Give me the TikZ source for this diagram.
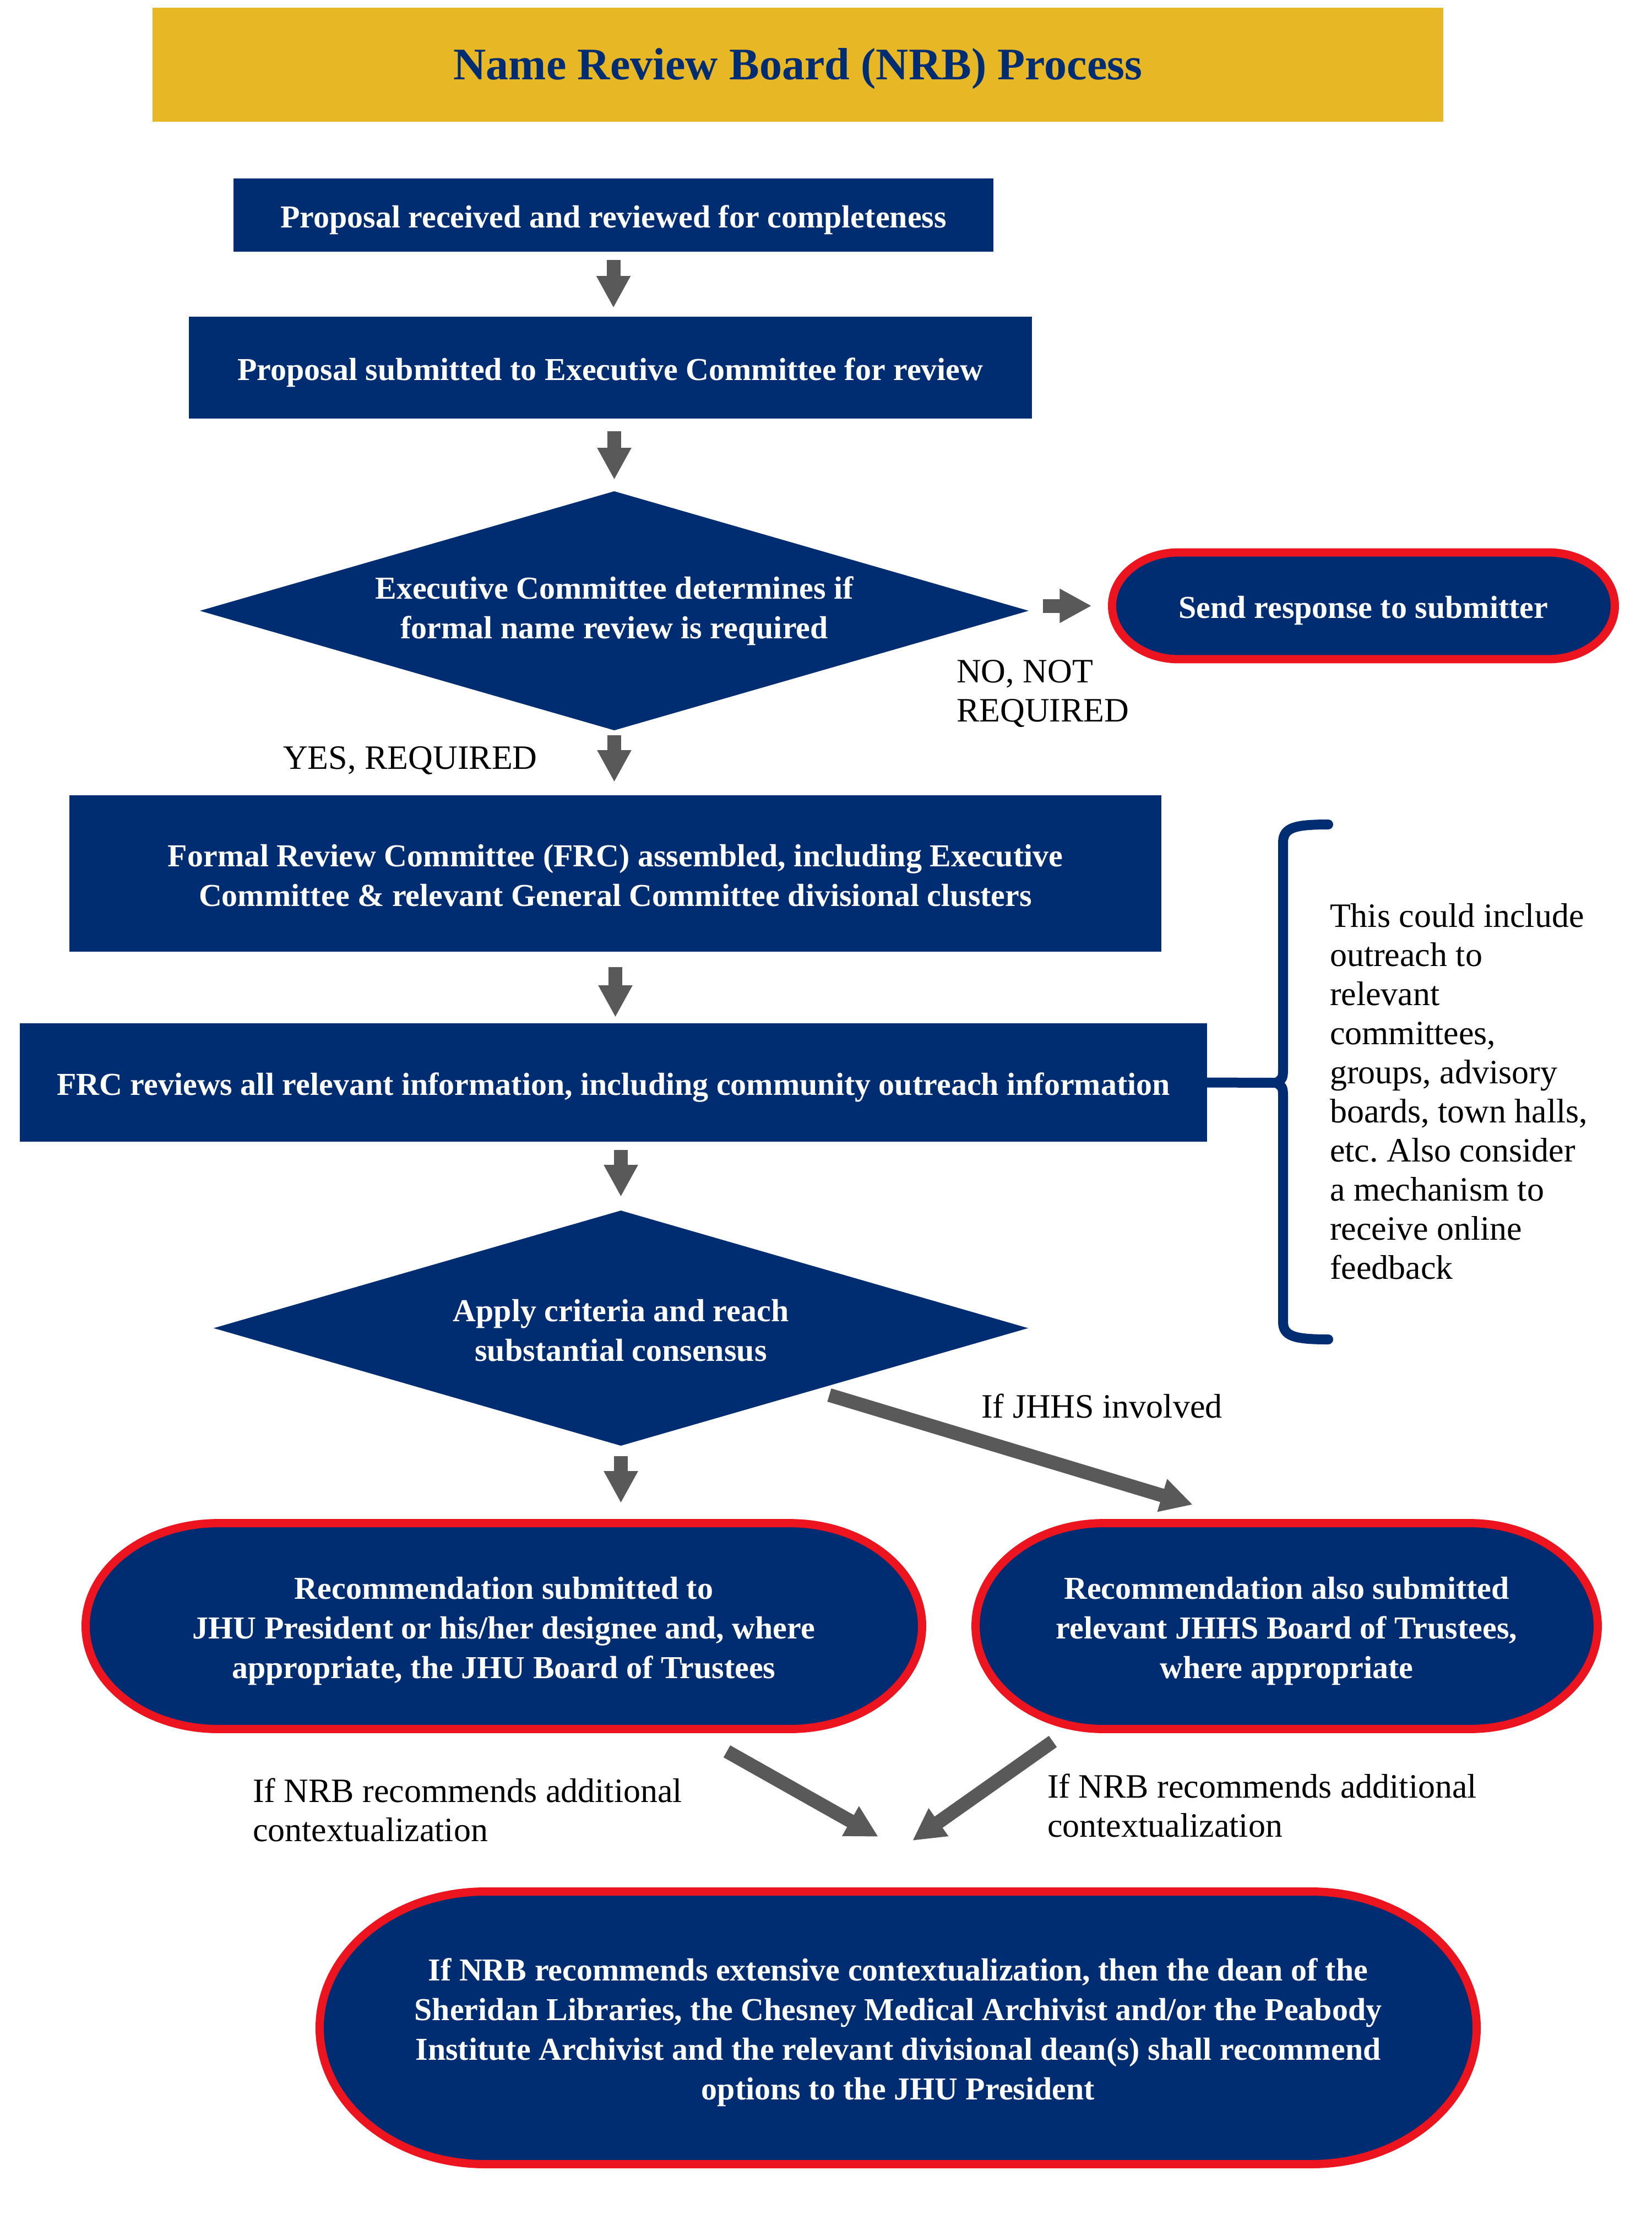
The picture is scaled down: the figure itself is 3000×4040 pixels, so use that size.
\documentclass[tikz,border=0pt]{standalone}
\usepackage{fontspec}
\setmainfont{Liberation Serif}
\usetikzlibrary{arrows.meta,shapes.geometric,calc}
\definecolor{jhnavy}{RGB}{0,45,114}
\definecolor{jhgold}{RGB}{232,183,38}
\definecolor{jhred}{RGB}{236,20,30}
\definecolor{arrgray}{RGB}{89,89,89}
\newcommand{\bstrut}{\rule{0pt}{14.5pt}}
\newcommand{\dstrut}{\rule{0pt}{12pt}}
\newcommand{\tstrut}{\rule{0pt}{18pt}}
\begin{document}
\frenchspacing
\begin{tikzpicture}[x=0.25pt,y=-0.25pt,
  every node/.style={inner sep=0pt, outer sep=0pt},
  boxtext/.style={text=white, font=\bfseries\fontsize{14.5}{18}\selectfont, align=center},
  titlebox/.style={fill=jhgold, text=jhnavy, font=\bfseries\fontsize{20.5}{24}\selectfont,
    minimum width=586pt, minimum height=51.75pt},
  stepbox/.style={boxtext, fill=jhnavy},
  decision/.style={boxtext, fill=jhnavy, diamond, aspect=3.47},
  terminal/.style n args={3}{boxtext, rectangle,
    minimum width={2*#1pt}, minimum height={2*#2pt},
    path picture={\filldraw[fill=jhnavy, draw=jhred, line width=3.75pt]
      ($(path picture bounding box.center)+({-#1pt+#3pt},{#2pt-1.875pt})$)
      -- ($(path picture bounding box.center)+({#1pt-#3pt},{#2pt-1.875pt})$)
      arc[start angle=90, end angle=-90, x radius={#3pt-1.875pt}, y radius={#2pt-1.875pt}]
      -- ($(path picture bounding box.center)+({-#1pt+#3pt},{-#2pt+1.875pt})$)
      arc[start angle=270, end angle=90, x radius={#3pt-1.875pt}, y radius={#2pt-1.875pt}]
      -- cycle;}},
  lbl/.style={text=black, font=\fontsize{15.5}{17.75}\selectfont, align=left},
  blockarrow/.style={draw=arrgray, line width=6.25pt,
    -{Triangle[length=14.5pt,width=14.5pt]}},
  bracestyle/.style={draw=jhnavy, line width=4.5pt, line cap=round, line join=round}
]
\useasboundingbox (0,0) rectangle (3000,4040);

% title
\node[titlebox] (title) at (1449,117.5) {\tstrut Name Review Board (NRB) Process};

% process
\node[stepbox, minimum width=345pt, minimum height=33.25pt] (b1) at (1114,390.5)
  {\bstrut Proposal received and reviewed for completeness};
\node[stepbox, minimum width=382.75pt, minimum height=46.25pt] (b2) at (1108.5,667.5)
  {\bstrut Proposal submitted to Executive Committee for review};
\node[decision, minimum width=376.25pt, minimum height=108.5pt] (d1) at (1115.5,1109)
  {Executive Committee determines if\\formal name review is required};
\node[terminal={116}{26.1}{32}] (sr) at (2476,1100)
  {\bstrut Send response to submitter};
\node[stepbox, minimum width=495.75pt, minimum height=71pt] (b3) at (1117.5,1586)
  {\dstrut Formal Review Committee (FRC) assembled, including Executive\\Committee \& relevant General Committee divisional clusters};
\node[stepbox, minimum width=539pt, minimum height=53.75pt] (b4) at (1114,1965.5)
  {\bstrut FRC reviews all relevant information, including community outreach information};
\node[decision, minimum width=369.75pt, minimum height=106.75pt] (d2) at (1127.5,2411.5)
  {\dstrut Apply criteria and reach\\substantial consensus};
\node[terminal={191.75}{48.6}{62}] (sl) at (915,2952.5)
  {\bstrut Recommendation submitted to\\JHU President or his/her designee and, where\\appropriate, the JHU Board of Trustees};
\node[terminal={143.1}{48.6}{60}] (sx) at (2336.5,2952.5)
  {\bstrut Recommendation also submitted\\relevant JHHS Board of Trustees,\\where appropriate};
\node[terminal={264.5}{63.75}{77}] (fin) at (1631,3682)
  {\bstrut If NRB recommends extensive contextualization, then the dean of the\\Sheridan Libraries, the Chesney Medical Archivist and/or the Peabody\\Institute Archivist and the relevant divisional dean(s) shall recommend\\options to the JHU President};

% labels
\node[lbl, anchor=west] (no) at (1737,1259) {NO, NOT\\REQUIRED};
\node[lbl] (yes) at (745,1381) {YES, REQUIRED};
\node[lbl, anchor=west] (note) at (2415,1982) {This could include\\outreach to\\relevant\\committees,\\groups, advisory\\boards, town halls,\\etc. Also consider\\a mechanism to\\receive online\\feedback};
\node[lbl] (jh) at (2001,2553) {If JHHS involved};
\node[lbl, anchor=west] (ctxl) at (459,3286) {If NRB recommends additional\\contextualization};
\node[lbl, anchor=west] (ctxr) at (1902,3278) {If NRB recommends additional\\contextualization};

% straight arrows
\draw[blockarrow, shorten <=3.75pt, shorten >=4pt] (b1.south) -- (b1.south |- b2.north);
\draw[blockarrow, shorten <=5.75pt, shorten >=5.25pt] (d1.north |- b2.south) -- (d1.north);
\draw[blockarrow, shorten <=6.5pt, shorten >=7.4pt] (sr.west -| d1.east) -- (sr.west);
\draw[blockarrow, shorten <=2.25pt, shorten >=6pt] (d1.south) -- (d1.south |- b3.north);
\draw[blockarrow, shorten <=7pt, shorten >=2.75pt] (b3.south) -- (b3.south |- b4.north);
\draw[blockarrow, shorten <=3.75pt, shorten >=6.25pt] (d2.north |- b4.south) -- (d2.north);
\draw[blockarrow, shorten <=4.75pt, shorten >=7.25pt] (d2.south) -- (d2.south |- sl.north);

% diagonal arrows
\coordinate (j1) at (1506,2533);
\coordinate (j2) at (2166,2732);
\draw[blockarrow] (j1) -- (j2);
\coordinate (l1) at (1320,3180);
\coordinate (l2) at (1595,3335);
\draw[blockarrow] (l1) -- (l2);
\coordinate (r1) at (1912,3162);
\coordinate (r2) at (1657,3342);
\draw[blockarrow] (r1) -- (r2);

% brace
\coordinate (bt) at (2318,1966);
\draw[bracestyle] (b4.east) -- (bt);
\draw[bracestyle] (2412,1497) .. controls (2350,1497) and (2330,1503) .. (2330,1530)
  -- (2330,1935) .. controls (2330,1958) .. (bt)
  .. controls (2330,1974) .. (2330,1997)
  -- (2330,2400) .. controls (2330,2426) and (2350,2432) .. (2412,2432);
\end{tikzpicture}
\end{document}
